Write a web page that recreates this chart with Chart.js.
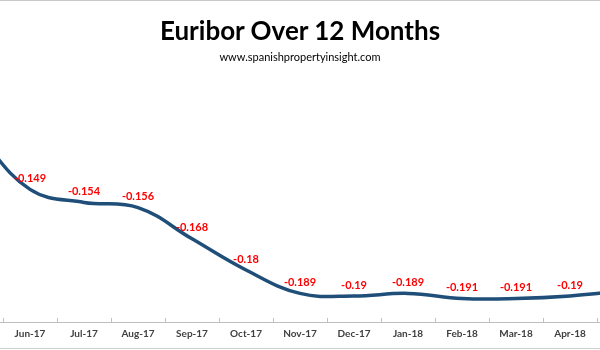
<!DOCTYPE html>
<html>
<head>
<meta charset="utf-8">
<script src="https://cdn.jsdelivr.net/npm/chart.js@4/dist/chart.umd.min.js"></script>
<style>
  html, body { margin: 0; padding: 0; background: #fff; }
  .frame { position: relative; width: 600px; height: 350px; overflow: hidden; background: #fff; }
  .frame .topline { position: absolute; left: 0; top: 0; width: 600px; height: 1px; background: #c8c8c8; }
  .frame .botline { position: absolute; left: 0; top: 348px; width: 600px; height: 1px; background: #d0d0d0; }
  .title { position: absolute; left: 0; width: 600px; text-align: center; top: 14px;
           font: bold 26px Lato, "Open Sans", sans-serif; color: #000; }
  .sub { position: absolute; left: 0; width: 600px; text-align: center; top: 50px;
         font: 11px Lato, "Open Sans", sans-serif; color: #000; }
  .box { position: absolute; left: -51px; top: 0; width: 702px; height: 350px; }
</style>
</head>
<body>
<div class="frame">
  <div class="box"><canvas id="myChart"></canvas></div>
  <div class="title">Euribor Over 12 Months</div>
  <div class="sub">www.spanishpropertyinsight.com</div>
  <div class="topline"></div>
  <div class="botline"></div>
</div>
<script>
// months (first and last are cut off at the frame edges)
var months = ['May-17','Jun-17','Jul-17','Aug-17','Sep-17','Oct-17','Nov-17','Dec-17','Jan-18','Feb-18','Mar-18','Apr-18','May-18'];
var euribor = [-0.127, -0.149, -0.154, -0.156, -0.168, -0.18, -0.189, -0.19, -0.189, -0.191, -0.191, -0.19, -0.188];
var yMin = -0.2;
var yMax = -0.1;

// red value labels above each point
var valueLabels = {
  id: 'valueLabels',
  afterDatasetsDraw: function(chart) {
    var ctx = chart.ctx;
    var meta = chart.getDatasetMeta(0);
    ctx.save();
    ctx.fillStyle = '#ff0000';
    ctx.font = 'bold 11px Lato, "Open Sans", sans-serif';
    ctx.textAlign = 'center';
    ctx.textBaseline = 'middle';
    meta.data.forEach(function(pt, i) {
      ctx.fillText(String(euribor[i]), pt.x, pt.y - 11);
    });
    ctx.restore();
  }
};

// small tick marks pointing up from the axis, at category boundaries
var innerTicks = {
  id: 'innerTicks',
  afterDraw: function(chart) {
    var ctx = chart.ctx;
    var x = chart.scales.x;
    var y0 = chart.chartArea.bottom;
    var half = (x.getPixelForValue(1) - x.getPixelForValue(0)) / 2;
    ctx.save();
    ctx.strokeStyle = '#bfbfbf';
    ctx.lineWidth = 1;
    for (var i = 0; i <= months.length; i++) {
      var px = Math.round(x.getPixelForValue(0) - half + i * half * 2) + 0.5;
      ctx.beginPath();
      ctx.moveTo(px, y0 - 4);
      ctx.lineTo(px, y0);
      ctx.stroke();
    }
    ctx.beginPath();
    ctx.moveTo(chart.chartArea.left, y0 + 0.5);
    ctx.lineTo(chart.chartArea.right, y0 + 0.5);
    ctx.stroke();
    ctx.restore();
  }
};

new Chart('myChart', {
  type: 'line',
  data: {
    labels: months,
    datasets: [{
      data: euribor,
      borderColor: '#1f4e79',
      borderWidth: 3.5,
      pointRadius: 0,
      tension: 0.4,
      fill: false
    }]
  },
  options: {
    responsive: true,
    maintainAspectRatio: false,
    animation: false,
    layout: { padding: { top: 62, left: 0, right: 0, bottom: 0 } },
    plugins: {
      legend: { display: false },
      tooltip: { enabled: false }
    },
    scales: {
      x: {
        offset: true,
        grid: { display: false, drawTicks: false, tickLength: 0 },
        border: { display: false },
        ticks: {
          color: '#404040',
          font: { family: 'Lato, "Open Sans", sans-serif', size: 10, weight: 'bold' },
          maxRotation: 0,
          autoSkip: false,
          padding: 6
        },
        afterFit: function(scale) { scale.height = 28; }
      },
      y: {
        display: false,
        min: yMin,
        max: yMax
      }
    }
  },
  plugins: [valueLabels, innerTicks]
});
</script>
</body>
</html>
